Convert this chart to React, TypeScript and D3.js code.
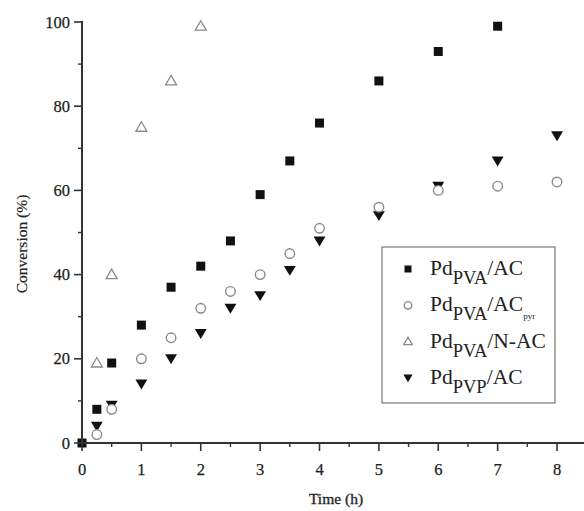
import React from "react";
import * as d3 from "d3";

const timesAC = [0, 0.25, 0.5, 1, 1.5, 2, 2.5, 3, 3.5, 4, 5, 6, 7];
const convAC = [0, 8, 19, 28, 37, 42, 48, 59, 67, 76, 86, 93, 99];

const timesPyr = [0.25, 0.5, 1, 1.5, 2, 2.5, 3, 3.5, 4, 5, 6, 7, 8];
const convPyr = [2, 8, 20, 25, 32, 36, 40, 45, 51, 56, 60, 61, 62];

const timesNAC = [0.25, 0.5, 1, 1.5, 2];
const convNAC = [19, 40, 75, 86, 99];

const timesPVP = [0.25, 0.5, 1, 1.5, 2, 2.5, 3, 3.5, 4, 5, 6, 7, 8];
const convPVP = [4, 9, 14, 20, 26, 32, 35, 41, 48, 54, 61, 67, 73];

const xMajorTicks = [0, 1, 2, 3, 4, 5, 6, 7, 8];
const xMinorTicks = [0.5, 1.5, 2.5, 3.5, 4.5, 5.5, 6.5, 7.5];
const yMajorTicks = [0, 20, 40, 60, 80, 100];
const yMinorTicks = [10, 30, 50, 70, 90];

const FONT = "'Liberation Serif', 'DejaVu Serif', serif";
const AXIS = "#333";
const OPEN = "#8a8a8a";

export default function App() {
  const x = d3.scaleLinear().domain([0, 8.5]).range([82, 586.7]);
  const y = d3.scaleLinear().domain([0, 100]).range([443, 22]);

  const sq = (cx: number, cy: number, key: string, s = 9) => (
    <rect key={key} x={cx - s / 2} y={cy - s / 2} width={s} height={s} fill="#111" />
  );
  const circ = (cx: number, cy: number, key: string, s = 9) => (
    <circle key={key} cx={cx} cy={cy} r={s * 0.53} fill="white" stroke={OPEN} strokeWidth={1.4} />
  );
  const triUp = (cx: number, cy: number, key: string, s = 9) => {
    const h = s * 0.61;
    return (
      <path key={key} d={`M${cx},${cy - h} L${cx + h},${cy + h * 0.73} L${cx - h},${cy + h * 0.73} Z`} fill="white" stroke={OPEN} strokeWidth={1.3} />
    );
  };
  const triDown = (cx: number, cy: number, key: string, s = 9) => {
    const h = s * 0.66;
    return <path key={key} d={`M${cx - h},${cy - h * 0.75} L${cx + h},${cy - h * 0.75} L${cx},${cy + h * 0.92} Z`} fill="#111" />;
  };

  const legendItems = [
    { sub: "PVA", after: "/AC", extra: "", mark: sq },
    { sub: "PVA", after: "/AC", extra: "pyr", mark: circ },
    { sub: "PVA", after: "/N-AC", extra: "", mark: triUp },
    { sub: "PVP", after: "/AC", extra: "", mark: triDown },
  ];

  return (
    <svg width={584} height={511} style={{ position: "absolute", left: 0, top: 0, background: "white" }}>
      <g>
        {timesPVP.map((t, i) => triDown(x(t), y(convPVP[i]), "d" + i))}
        {timesPyr.map((t, i) => circ(x(t), y(convPyr[i]), "c" + i))}
        {timesNAC.map((t, i) => triUp(x(t), y(convNAC[i]), "u" + i))}
        {timesAC.map((t, i) => sq(x(t), y(convAC[i]), "s" + i))}
      </g>

      <line x1={x(0)} x2={x(0)} y1={y(100) - 1} y2={y(0)} stroke={AXIS} strokeWidth={2} />
      <line x1={x(0) - 1} x2={584} y1={y(0)} y2={y(0)} stroke={AXIS} strokeWidth={2} />
      {yMajorTicks.map((v) => (
        <g key={"ym" + v}>
          <line x1={x(0) - 8} x2={x(0)} y1={y(v)} y2={y(v)} stroke={AXIS} strokeWidth={1.6} />
          <text x={70} y={y(v) + 5.5} textAnchor="end" fontFamily={FONT} fontSize={16.5} fill="#222" stroke="#222" strokeWidth={0.25}>{v}</text>
        </g>
      ))}
      {yMinorTicks.map((v) => (
        <line key={"yn" + v} x1={x(0) - 4} x2={x(0)} y1={y(v)} y2={y(v)} stroke={AXIS} strokeWidth={1.4} />
      ))}
      {xMajorTicks.map((v) => (
        <g key={"xm" + v}>
          <line x1={x(v)} x2={x(v)} y1={y(0)} y2={y(0) + 8} stroke={AXIS} strokeWidth={1.6} />
          <text x={x(v)} y={475} textAnchor="middle" fontFamily={FONT} fontSize={16.5} fill="#222" stroke="#222" strokeWidth={0.25}>{v}</text>
        </g>
      ))}
      {xMinorTicks.map((v) => (
        <line key={"xn" + v} x1={x(v)} x2={x(v)} y1={y(0)} y2={y(0) + 4} stroke={AXIS} strokeWidth={1.4} />
      ))}

      <text x={336} y={504} textAnchor="middle" fontFamily={FONT} fontSize={15.5} fill="#222" stroke="#222" strokeWidth={0.3}>Time (h)</text>
      <text transform="translate(27,244) rotate(-90)" textAnchor="middle" fontFamily={FONT} fontSize={15.5} fill="#222" stroke="#222" strokeWidth={0.2}>Conversion (%)</text>

      <rect x={382} y={247} width={173} height={156} fill="white" stroke="#777" strokeWidth={1.2} />
      {legendItems.map((it, i) => {
        const by = 275 + i * 36.3;
        return (
          <g key={"l" + i}>
            {it.mark(408, by - 6, "lm" + i, 7)}
            <text x={430} y={by} fontFamily={FONT} fontSize={21.5} fill="#222">
              Pd
              <tspan dy={9} fontSize={18.5}>{it.sub}</tspan>
              <tspan dy={-9} fontSize={21.5}>{it.after}</tspan>
              {it.extra ? <tspan dy={8} fontSize={9}>{it.extra}</tspan> : null}
            </text>
          </g>
        );
      })}
    </svg>
  );
}
